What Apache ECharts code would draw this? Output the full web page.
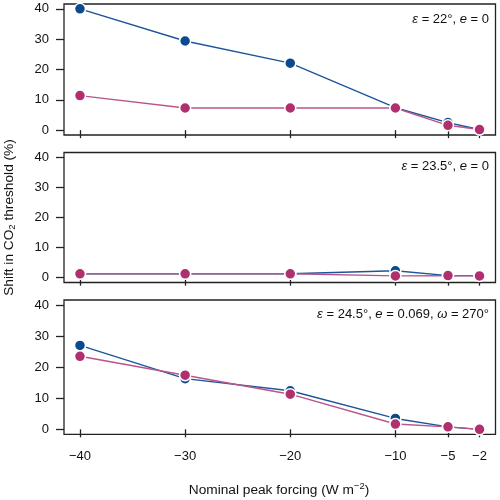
<!DOCTYPE html>
<html><head><meta charset="utf-8">
<script src="https://cdn.jsdelivr.net/npm/echarts@6/dist/echarts.min.js"></script>
<style>html,body{margin:0;padding:0;background:#fff}#c{width:500px;height:500px}</style>
</head><body><div id="c"></div>
<script>
const forcing = [-40, -30, -20, -10, -5, -2];
const xTicks = [-40, -30, -20, -10, -5, -2];
const yTicks = [0, 10, 20, 30, 40];
// panel 1: eps=22, e=0
const p1Blue = [40, 29.4, 22.1, 7.4, 2.5, 0.2];
const p1Mag  = [11.4, 7.3, 7.3, 7.3, 1.6, 0.2];
// panel 2: eps=23.5, e=0
const p2Blue = [1.3, 1.3, 1.3, 2.3, 0.7, 0.7];
const p2Mag  = [1.3, 1.3, 1.3, 0.6, 0.7, 0.6];
// panel 3: eps=24.5, e=0.069, omega=270
const p3Blue = [27.0, 16.3, 12.4, 3.5, 0.8, 0.0];
const p3Mag  = [23.5, 17.4, 11.3, 1.7, 0.8, 0.0];
const panelLabels = [
  [{t:'ε', i:true},{t:' = 22°, '},{t:'e', i:true},{t:' = 0'}],
  [{t:'ε', i:true},{t:' = 23.5°, '},{t:'e', i:true},{t:' = 0'}],
  [{t:'ε', i:true},{t:' = 24.5°, '},{t:'e', i:true},{t:' = 0.069, '},{t:'ω', i:true},{t:' = 270°'}]
];

const BLUE = '#0b4a8f', BLUE_L = '#1c5599';
const MAG = '#b0306f', MAG_L = '#b8558a';
const FONT = '"Liberation Sans", Arial, sans-serif';
const panels = [[p1Blue, p1Mag], [p2Blue, p2Mag], [p3Blue, p3Mag]];
const grids = [{top: 4, h: 131}, {top: 152.5, h: 130}, {top: 300, h: 134.3}];

const chart = echarts.init(document.getElementById('c'), null, {renderer: 'canvas'});
const grid = [], xAxis = [], yAxis = [], series = [], graphic = [];
grids.forEach((g, k) => {
  grid.push({left: 64, right: 4.5, top: g.top, height: g.h, show: true,
    borderColor: '#222', borderWidth: 1.3, backgroundColor: 'transparent'});
  xAxis.push({type: 'value', gridIndex: k, min: -41.52, max: -0.48,
    axisLine: {show: false}, splitLine: {show: false},
    axisTick: {show: true, length: 8, inside: false, customValues: xTicks, lineStyle: {color: '#222', width: 1.3}},
    axisLabel: {show: k === 2, customValues: xTicks, margin: 16, fontSize: 13, color: '#111', fontFamily: FONT,
      formatter: v => String(v).replace('-', '−')}});
  yAxis.push({type: 'value', gridIndex: k, min: -1.6, max: 41.6,
    axisLine: {show: false}, splitLine: {show: false},
    axisTick: {show: true, length: 8, inside: false, customValues: yTicks, lineStyle: {color: '#222', width: 1.3}},
    axisLabel: {show: true, customValues: yTicks, margin: 15, fontSize: 13, color: '#111', fontFamily: FONT}});
  const [b, m] = panels[k];
  [[b, BLUE, BLUE_L], [m, MAG, MAG_L]].forEach(([vals, c, cl]) => {
    series.push({type: 'line', xAxisIndex: k, yAxisIndex: k,
      data: forcing.map((x, i) => [x, vals[i]]),
      symbol: 'circle', symbolSize: 11, showSymbol: true,
      lineStyle: {color: cl, width: 1.4},
      itemStyle: {color: c, borderColor: '#fff', borderWidth: 1.5},
      emphasis: {disabled: true}, animation: false, z: 3});
  });
  const lbl = panelLabels[k].map(p => p.i ? '{i|' + p.t + '}' : '{n|' + p.t + '}').join('');
  graphic.push({type: 'text', right: 11, top: [13, 160, 308][k],
    style: {text: lbl, fontSize: 13, fontFamily: FONT, fill: '#111',
      rich: {i: {fontStyle: 'italic', fontSize: 13, fontFamily: FONT, fill: '#111'},
             n: {fontSize: 13, fontFamily: FONT, fill: '#111'}}}});
});
graphic.push({type: 'text', x: 279, y: 490,
  style: {text: '{n|Nominal peak forcing (W m}{s|−2}{n|)}', align: 'center', verticalAlign: 'middle',
    rich: {n: {fontSize: 13.7, fontFamily: FONT, fill: '#111'},
           s: {fontSize: 9.5, fontFamily: FONT, fill: '#111', verticalAlign: 'top', padding: [0,0,8,0]}}}});
graphic.push({type: 'text', x: 9.5, y: 217.5, rotation: Math.PI / 2,
  style: {text: '{n|Shift in CO}{s|2}{n| threshold (%)}', align: 'center', verticalAlign: 'middle',
    rich: {n: {fontSize: 13.7, fontFamily: FONT, fill: '#111'},
           s: {fontSize: 9.5, fontFamily: FONT, fill: '#111', padding: [6,0,0,0]}}}});
chart.setOption({animation: false, grid, xAxis, yAxis, series, graphic});
</script></body></html>
